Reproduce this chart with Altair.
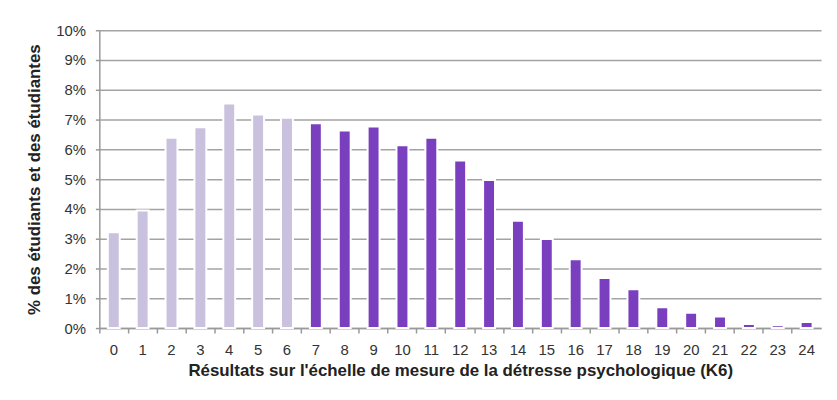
import altair as alt
import pandas as pd

scores = [str(i) for i in range(25)]
pourcentages = [3.22, 3.95, 6.39, 6.74, 7.54, 7.17, 7.06, 6.88, 6.63, 6.77, 6.14,
                6.39, 5.63, 4.97, 3.60, 2.99, 2.31, 1.68, 1.30, 0.70, 0.51, 0.39,
                0.14, 0.09, 0.20]
groupes = ["faible"] * 7 + ["élevé"] * 18
couleurs = ["#c9c1dd", "#7a3fbf"]

df = pd.DataFrame({"score": scores, "pct": pourcentages, "groupe": groupes})

FONT = "Liberation Sans"

x_scale = alt.Scale(domain=scores, paddingInner=0.0, paddingOuter=0.0)
y_scale = alt.Scale(domain=[0, 10], nice=False)

y_axis = alt.Axis(
    title="%  des étudiants et des étudiantes",
    values=list(range(0, 11)),
    labelExpr="datum.value + '%'",
    grid=True, gridColor="#a3a3a3", gridWidth=1.5,
    domainColor="#999999", domainWidth=1.5,
    tickColor="#999999", tickSize=4, tickWidth=1.5,
    labelPadding=10, labelFontSize=15, labelColor="#333333", labelFont=FONT,
    titleFontSize=17, titleFont=FONT, titleFontWeight="bold", titleColor="#222222",
    titlePadding=12,
)

bars = alt.Chart(df).mark_bar(size=12, stroke="white", strokeWidth=2).encode(
    x=alt.X("score:N", scale=x_scale, sort=scores,
            axis=alt.Axis(title="Résultats sur l'échelle de mesure de la détresse psychologique (K6)",
                          orient="bottom", labelAngle=0, ticks=False, domain=False,
                          labelPadding=15, labelFontSize=15, labelColor="#333333", labelFont=FONT,
                          titleFontSize=17, titleFont=FONT, titleFontWeight="bold",
                          titleColor="#222222", titlePadding=5)),
    y=alt.Y("pct:Q", scale=y_scale, axis=y_axis),
    color=alt.Color("groupe:N", scale=alt.Scale(domain=["faible", "élevé"], range=couleurs), legend=None),
)

ticks_layer = alt.Chart(df).mark_bar(opacity=0).encode(
    x=alt.X("score:N", scale=x_scale, sort=scores,
            axis=alt.Axis(title=None, orient="bottom", labels=False, bandPosition=0,
                          ticks=True, tickSize=5, tickColor="#999999", tickWidth=1.5,
                          domain=True, domainColor="#999999", domainWidth=1.5)),
    y=alt.Y("pct:Q", scale=y_scale, axis=y_axis),
)

chart = alt.layer(bars, ticks_layer).resolve_axis(x="independent").properties(
    width=727, height=300,
    padding={"left": 92, "top": 21, "right": 8, "bottom": 62},
    autosize=alt.AutoSizeParams(type="none"),
    background="white",
).configure_view(stroke=None)

chart.save("out.html", embed_options={"renderer": "svg", "actions": False})
